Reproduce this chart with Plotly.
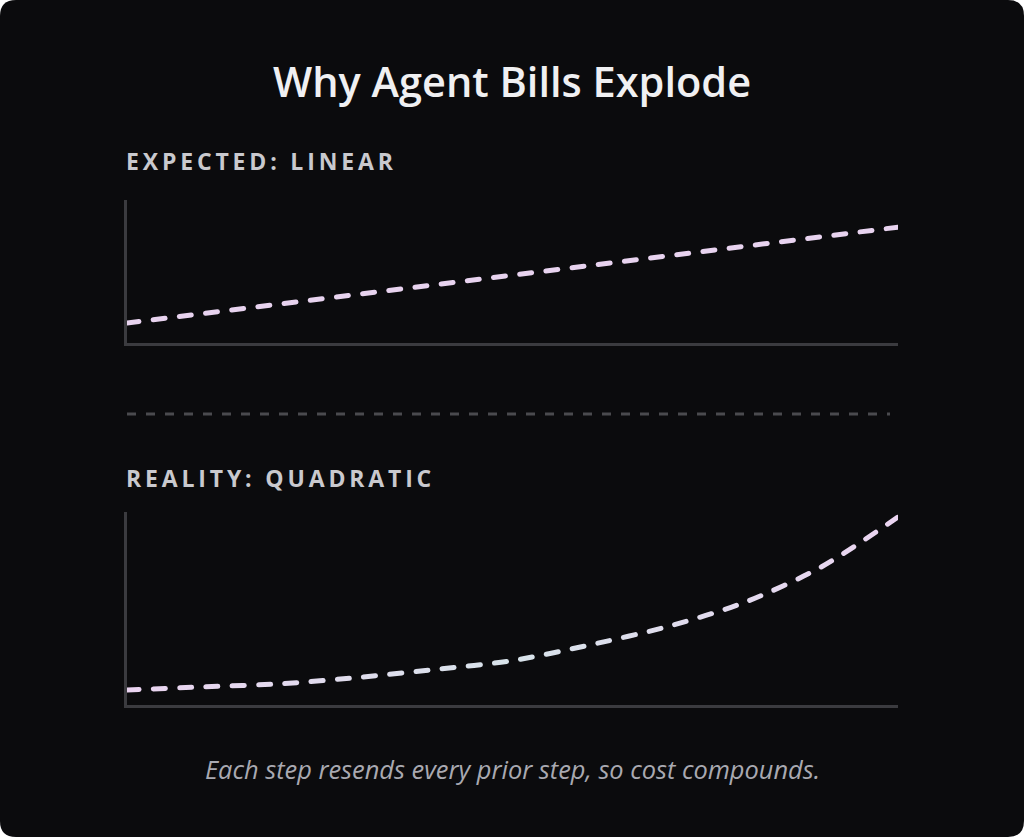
import plotly.graph_objects as go

W, H = 1024, 837

# ---- data ----
steps = [0, 1, 2, 3, 4, 5, 6, 7, 8, 9, 10]
expected_cost = [14, 20.7, 27.4, 34.1, 40.8, 47.5, 54.2, 60.9, 67.6, 74.3, 81]
reality_cost = [7.8, 9.4, 11.0, 14.3, 18.4, 23.0, 31.1, 40.5, 53.0, 71.4, 97.4]

title_text = "Why Agent Bills Explode"
label_top = "EXPECTED: LINEAR"
label_bottom = "REALITY: QUADRATIC"
caption = "Each step resends every prior step, so cost compounds."

BG = "#0b0b0d"
AXIS = "#3b3b3f"
LINE_TOP = "#e8d3ef"
LINE_BOT = "#dfdfea"
FONT = "Open Sans"


def spaced(s):
    # emulate letter-spacing with six-per-em spaces
    return "\u2006".join(list(s))


def px_x(p):
    return p / W


def px_y(p):
    return 1 - p / H


fig = go.Figure()

fig.add_trace(go.Scatter(
    x=steps, y=expected_cost, mode="lines",
    line=dict(color=LINE_TOP, width=5, dash="12px,14.38px"),
    xaxis="x", yaxis="y", hoverinfo="skip", showlegend=False))

fig.add_trace(go.Scatter(
    x=steps, y=reality_cost, mode="lines",
    line=dict(color=LINE_BOT, width=5, dash="12px,14.33px", shape="spline", smoothing=0.8),
    xaxis="x2", yaxis="y2", hoverinfo="skip", showlegend=False))

xdom = [px_x(127), px_x(898)]
axis_common = dict(showgrid=False, zeroline=False, showticklabels=False, ticks="",
                   showline=True, linecolor=AXIS, linewidth=3, fixedrange=True)

# rounded background
r = 16
rx, ry = r / W, r / H
path = (f"M {rx},1 L {1-rx},1 Q 1,1 1,{1-ry} L 1,{ry} Q 1,0 {1-rx},0 "
        f"L {rx},0 Q 0,0 0,{ry} L 0,{1-ry} Q 0,1 {rx},1 Z")

fig.update_layout(
    width=W, height=H,
    margin=dict(l=0, r=0, t=0, b=0),
    paper_bgcolor="#ffffff",
    plot_bgcolor="rgba(0,0,0,0)",
    xaxis=dict(domain=xdom, range=[0, 10], anchor="y", **axis_common),
    yaxis=dict(domain=[px_y(343), px_y(200)], range=[0, 100], anchor="x", **axis_common),
    xaxis2=dict(domain=xdom, range=[0, 10], anchor="y2", **axis_common),
    yaxis2=dict(domain=[px_y(705), px_y(512)], range=[0, 100], anchor="x2", **axis_common),
    shapes=[
        dict(type="path", xref="paper", yref="paper", path=path,
             fillcolor=BG, line=dict(width=0), layer="below"),
        dict(type="line", xref="paper", yref="paper",
             x0=px_x(127), x1=px_x(890), y0=px_y(414), y1=px_y(414),
             line=dict(color="#4a4a4e", width=3, dash="9px,10px")),
    ],
    annotations=[
        dict(text=title_text, xref="paper", yref="paper", x=0.5, y=px_y(81),
             xanchor="center", yanchor="middle", showarrow=False,
             font=dict(family=FONT, size=41.5, color="#f0f0f2", weight=600)),
        dict(text=spaced(label_top), xref="paper", yref="paper", x=px_x(124), y=px_y(161),
             xanchor="left", yanchor="middle", showarrow=False,
             font=dict(family=FONT, size=23, color="#c9c9ce", weight=700)),
        dict(text=spaced(label_bottom), xref="paper", yref="paper", x=px_x(124), y=px_y(478),
             xanchor="left", yanchor="middle", showarrow=False,
             font=dict(family=FONT, size=23, color="#c9c9ce", weight=700)),
        dict(text=caption, xref="paper", yref="paper", x=0.5, y=px_y(769),
             xanchor="center", yanchor="middle", showarrow=False,
             font=dict(family=FONT, size=25.4, color="#a9a9b1", style="italic")),
    ],
)

post = """
document.body.style.margin = '0';
try {
  var gd = document.getElementById('{plot_id}');
  var lines = gd.querySelectorAll('.scatterlayer .trace .js-line');
  lines.forEach(function (p) { p.style.strokeLinecap = 'round'; });
  var svg = gd.querySelector('svg.main-svg');
  var ns = 'http://www.w3.org/2000/svg';
  var defs = svg.querySelector('defs') || svg.insertBefore(document.createElementNS(ns, 'defs'), svg.firstChild);
  var lg = document.createElementNS(ns, 'linearGradient');
  lg.setAttribute('id', 'reality-grad');
  lg.setAttribute('x1', '0'); lg.setAttribute('y1', '0');
  lg.setAttribute('x2', '1'); lg.setAttribute('y2', '0');
  [['0', '#ebd4f1'], ['0.5', '#d8e3ea'], ['1', '#ebd4f1']].forEach(function (s) {
    var st = document.createElementNS(ns, 'stop');
    st.setAttribute('offset', s[0]);
    st.setAttribute('stop-color', s[1]);
    lg.appendChild(st);
  });
  defs.appendChild(lg);
  if (lines.length > 1) { lines[1].style.stroke = 'url(#reality-grad)'; }
} catch (e) {}
"""

fig.write_html("out.html", config={"displayModeBar": False}, post_script=post)
